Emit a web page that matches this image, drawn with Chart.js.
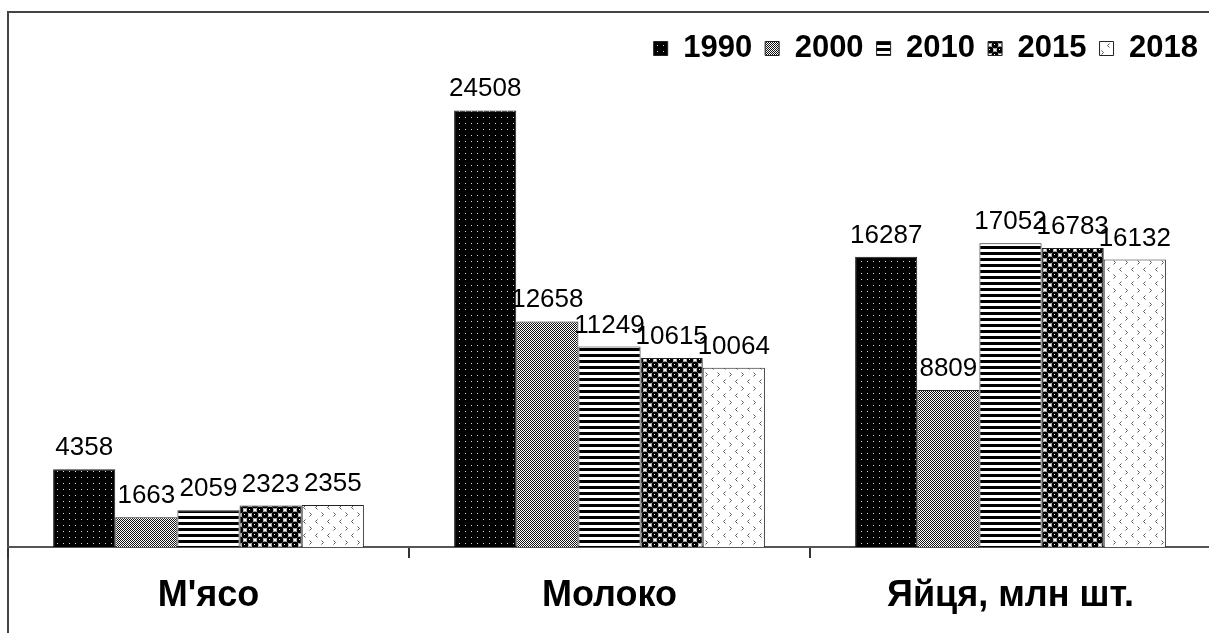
<!DOCTYPE html>
<html>
<head>
<meta charset="utf-8">
<script src="https://cdn.jsdelivr.net/npm/chart.js@4"></script>
<style>
  html, body { margin: 0; padding: 0; background: #fff; overflow: hidden; }
  #wrap { width: 1211px; height: 633px; }
</style>
</head>
<body>
<div id="wrap"><canvas id="c" width="1211" height="633"></canvas></div>
<script>
// ---- data ----
const categories = ["М'ясо", "Молоко", "Яйця, млн шт."];
const years = ["1990", "2000", "2010", "2015", "2018"];
const v1990 = [4358, 24508, 16287];
const v2000 = [1663, 12658, 8809];
const v2010 = [2059, 11249, 17052];
const v2015 = [2323, 10615, 16783];
const v2018 = [2355, 10064, 16132];
const seriesValues = [v1990, v2000, v2010, v2015, v2018];

// ---- patterns ----
function tile(w, h, draw) {
  const t = document.createElement('canvas');
  t.width = w; t.height = h;
  const g = t.getContext('2d');
  draw(g, w, h);
  return document.getElementById('c').getContext('2d').createPattern(t, 'repeat');
}
const p1990 = tile(6, 6, (g) => {
  g.fillStyle = '#000'; g.fillRect(0, 0, 6, 6);
  g.fillStyle = '#d8d8d8'; g.fillRect(3, 3, 1, 1);
});
const p2000 = tile(2, 2, (g) => {
  g.fillStyle = '#fff'; g.fillRect(0, 0, 2, 2);
  g.fillStyle = '#111'; g.fillRect(0, 0, 1, 1); g.fillRect(1, 1, 1, 1);
});
const p2010 = tile(4, 6, (g) => {
  g.fillStyle = '#fff'; g.fillRect(0, 0, 4, 6);
  g.fillStyle = '#000'; g.fillRect(0, 0, 4, 3);
});
const p2015 = tile(10, 10, (g) => {
  g.fillStyle = '#fff'; g.fillRect(0, 0, 10, 10);
  g.fillStyle = '#000';
  [[0,0],[10,0],[0,10],[10,10],[5,5]].forEach(([x,y]) => {
    g.beginPath(); g.arc(x, y, 3.4, 0, Math.PI * 2); g.fill();
  });
  g.fillStyle = '#fff';
  [[9,9],[4,4]].forEach(([x,y]) => g.fillRect(x, y, 1, 1));
});
const p2018 = tile(12, 14, (g) => {
  g.fillStyle = '#fff'; g.fillRect(0, 0, 12, 14);
  g.strokeStyle = '#555'; g.lineWidth = 1;
  g.beginPath(); g.moveTo(5.5, 1.5); g.lineTo(3.5, 3.5); g.lineTo(5.5, 5.5); g.stroke();
  g.beginPath(); g.moveTo(9.5, 8.5); g.lineTo(11.5, 10.5); g.lineTo(9.5, 12.5); g.stroke();
});
const patterns = [p1990, p2000, p2010, p2015, p2018];

// ---- plugins ----
const framePlugin = {
  id: 'frame',
  beforeDraw(chart) {
    const ctx = chart.ctx;
    ctx.save();
    ctx.fillStyle = '#fff';
    ctx.fillRect(0, 0, chart.width, chart.height);
    ctx.strokeStyle = '#444';
    ctx.lineWidth = 2;
    ctx.strokeRect(8, 12, 1400, 1000);
    ctx.restore();
  }
};
const valueLabels = {
  id: 'valueLabels',
  afterDatasetsDraw(chart) {
    const ctx = chart.ctx;
    ctx.save();
    ctx.fillStyle = '#000';
    ctx.font = '26px "Liberation Sans", Arial, sans-serif';
    ctx.textAlign = 'center';
    ctx.textBaseline = 'alphabetic';
    chart.data.datasets.forEach((ds, i) => {
      const meta = chart.getDatasetMeta(i);
      meta.data.forEach((bar, j) => {
        ctx.fillText(String(ds.data[j]), bar.x, bar.y - 14);
      });
    });
    ctx.restore();
  }
};

new Chart(document.getElementById('c'), {
  type: 'bar',
  data: {
    labels: categories,
    datasets: years.map((y, i) => ({
      label: y,
      data: seriesValues[i],
      backgroundColor: patterns[i],
      borderColor: '#222',
      borderWidth: 1,
      barPercentage: 1,
      categoryPercentage: 0.775
    }))
  },
  options: {
    responsive: false,
    devicePixelRatio: 1,
    animation: false,
    layout: { padding: { left: 8, top: 20, right: 0, bottom: 0 } },
    plugins: {
      tooltip: { enabled: false },
      legend: {
        position: 'top',
        align: 'end',
        labels: {
          boxWidth: 14,
          boxHeight: 14,
          padding: 13,
          color: '#000',
          font: { family: '"Liberation Sans", Arial, sans-serif', size: 31, weight: 'bold' }
        }
      }
    },
    scales: {
      x: {
        type: 'category',
        afterFit(scale) { scale.height = 86; },
        grid: {
          display: true,
          drawOnChartArea: false,
          drawTicks: true,
          tickLength: 11,
          color: '#333',
          lineWidth: 2,
          offset: true
        },
        border: { display: true, color: '#555', width: 2 },
        ticks: {
          color: '#000',
          padding: 16,
          maxRotation: 0,
          font: { family: '"Liberation Sans", Arial, sans-serif', size: 36, weight: 'bold' }
        }
      },
      y: {
        display: false,
        min: 0,
        max: 26550
      }
    }
  },
  plugins: [framePlugin, valueLabels]
});
</script>
</body>
</html>
